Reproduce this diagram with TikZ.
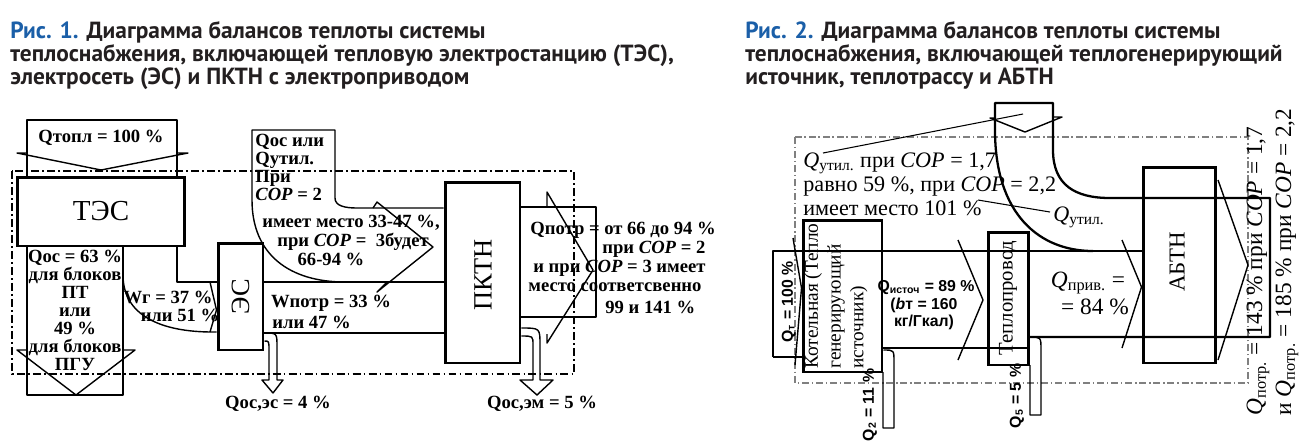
\documentclass[tikz,border=0pt]{standalone}
\usepackage{fontspec}
\setmainfont{Liberation Serif}
\newfontfamily\ttlfont{PT Sans}
\newfontfamily\lsans{Liberation Sans}
\definecolor{ttlblue}{RGB}{27,95,168}
\definecolor{ttldark}{RGB}{35,31,32}
\begin{document}
\begin{tikzpicture}[x=0.02cm,y=-0.02cm,
  ln/.style={line width=0.8pt, line join=round},
  fl/.style={line width=1.3pt, line join=round},
  bx/.style={draw, line width=1.7pt, inner sep=0pt},
  bnd/.style={line width=0.8pt, dash pattern=on 4.5pt off 1.8pt on 1pt off 1.8pt},
  bndg/.style={line width=0.6pt, gray, dash pattern=on 4pt off 1.6pt on 0.8pt off 1.6pt},
  ttl/.style={anchor=base west, inner sep=0pt, font=\ttlfont\bfseries\fontsize{13.3}{15}\selectfont, text=ttldark},
  la/.style={inner sep=0pt, font=\bfseries\fontsize{10.6}{10.25}\selectfont},
  lb/.style={inner sep=0pt, font=\fontsize{12.6}{13.7}\selectfont},
  lr/.style={inner sep=0pt, font=\fontsize{13.3}{14}\selectfont},
  ls/.style={inner sep=0pt, font=\lsans\bfseries\fontsize{9}{9.8}\selectfont},
]
\fill[white] (0,0) rectangle (1311,441);
\useasboundingbox (0,0) rectangle (1311,441);

% ---------- titles ----------
\node[ttl] (t1a) at (10,38) {\textcolor{ttlblue}{Рис. 1.} Диаграмма балансов теплоты системы};
\node[ttl] (t1b) at (10,61) {теплоснабжения, включающей тепловую электростанцию (ТЭС),};
\node[ttl] (t1c) at (10,84) {электросеть (ЭС) и ПКТН с электроприводом};
\node[ttl] (t2a) at (745,38) {\textcolor{ttlblue}{Рис. 2.} Диаграмма балансов теплоты системы};
\node[ttl] (t2b) at (745,61) {теплоснабжения, включающей теплогенерирующий};
\node[ttl] (t2c) at (745,84) {источник, теплотрассу и АБТН};

% ---------- Fig. 1 ----------
\draw[bnd] (12,171) rectangle (574,374);
\node[bx, minimum width=3.36cm, minimum height=1.38cm, font=\fontsize{16.5}{18}\selectfont] (tes) at (101,211.5) {ТЭС};
\node[bx, minimum width=0.9cm, minimum height=2.14cm] (es) at (240.5,296.5) {};
\node[rotate=90, inner sep=0pt, font=\fontsize{15}{16}\selectfont] (esl) at (es.center) {ЭС};
\node[bx, minimum width=1.5cm, minimum height=3.62cm] (pktn) at (482.5,272.5) {};
\node[rotate=90, inner sep=0pt, font=\fontsize{15}{16}\selectfont] (pktnl) at (483,275) {ПКТН};

% input arrow
\draw[ln] (tes.north -| 27,0) -- (27,120) -- (177,120) -- (tes.north -| 177,0);
\draw[ln] (27,153) -- (17,153) -- (101,170) -- (188,153) -- (177,153);
\node[la] (qtopl) at (101,138) {Qтопл = 100 \%};

% Qoc down arrow
\draw[ln] (tes.south -| 27,0) -- (27,395) -- (123,395) -- (tes.south -| 123,0);
\draw[ln] (27,350) -- (17,350) -- (76,395) -- (135,350) -- (123,350);
\node[la, align=center] (qos) at (75,310) {Qос = 63 \%\\для блоков\\ПТ\\или\\49 \%\\для блоков\\ПГУ};

% Wg flow
\draw[ln] (tes.south -| 177,0) -- (177,282) -- (es.west |- 0,282);
\draw[ln] (123,275) .. controls (123,315) and (160,332) .. (213,332) -- (es.west |- 0,332);
\draw[ln] (210,282) -- (es.west |- 0,310) -- (210,332);
\node[la] (wg1) at (168,297) {Wг = 37 \%};
\node[la] (wg2) at (180,315) {или 51 \%};

% big curved arrow Qoc / Qutil
\draw[ln] (345,282) .. controls (290,282) and (252,255) .. (252,200) -- (252,130) -- (335,130) -- (335,198) .. controls (335,206) and (345,208) .. (357,208) -- (pktn.west |- 0,208);
\draw[ln] (373,208) -- (377,202) -- (433,247) -- (377,292) -- (387,282);
\node[la, align=left, anchor=north west] (qutil1) at (255,134) {Qос или\\Qутил.\\При\\\textit{COP} = 2};
\node[la] (c1) at (351,223) {имеет место 33-47 \%,};
\node[la] (c2) at (353,242) {при \textit{COP} =\ \ 3будет};
\node[la] (c3) at (331,259) {66-94 \%};

% Wpotr flow
\draw[ln] (es.east |- 0,282) -- (pktn.west |- 0,282);
\draw[ln] (es.east |- 0,333) -- (pktn.west |- 0,333);
\node[la] (wp1) at (331,303) {Wпотр = 33 \%};
\node[la, anchor=west] (wp2) at (272,322) {или 47 \%};

% Qpotr output
\draw[ln] (pktn.east |- 0,207) -- (596,207) -- (596,317) -- (pktn.east |- 0,317);
\draw[ln] (547,207) -- (547,192) -- (593,270) -- (547,343) -- (547,334);
\node[la, anchor=west] (p1) at (530,230) {Qпотр = от 66 до 94 \%};
\node[la, anchor=west] (p2) at (602,249) {при \textit{COP} = 2};
\node[la, anchor=west] (p3) at (533,268) {и при \textit{COP} = 3 имеет};
\node[la, anchor=west] (p4) at (528,287) {место соответсвенно};
\node[la, anchor=west] (p5) at (605,307) {99 и 141 \%};

% losses
\draw[ln] (es.east |- 0,333) .. controls (277,333) .. (277,347) -- (277,380) -- (283,380) -- (273,393) -- (262,380) -- (269,380) -- (269,350) .. controls (269,341) .. (es.east |- 0,341);
\node[la] (qes) at (278,404) {Qос,эс = 4 \%};
\draw[ln] (pktn.east |- 0,328) .. controls (540,328) .. (540,345) -- (540,380) -- (553,380) -- (537,395) -- (520,380) -- (533,380) -- (533,345) .. controls (533,336) .. (pktn.east |- 0,336);
\node[la] (qem) at (542,404) {Qос,эм = 5 \%};

% ---------- Fig. 2 ----------
\draw[bndg] (795,137) rectangle (1248,383);
\node[bx, minimum width=1.58cm, minimum height=3.04cm] (kot) at (842.5,296) {};
\node[bx, minimum width=0.8cm, minimum height=2.66cm] (tep) at (1008,298.5) {};
\node[bx, minimum width=1.44cm, minimum height=3.92cm] (abtn) at (1179,265) {};

% main flow lines
\draw[fl] (773,357) -- (773,251) -- (abtn.west |- 0,251);
\draw[fl] (773,357) -- (kot.west |- 0,357);
\draw[ln] (793,238) -- (kot.west |- 0,288) -- (795,365);
\draw[fl] (kot.east |- 0,348) -- (tep.east |- 0,348);
\draw[ln] (958,240) -- (983,300) -- (958,360);
\draw[fl] (tep.east |- 0,337) -- (1270,337) -- (1270,198) -- (1110,198) .. controls (1075,198) and (1053,185) .. (1053,150) -- (1053,103) -- (995,103) -- (995,130) .. controls (995,215) and (1040,251) .. (1093,251);
\draw[ln] (1122,240) -- (abtn.west |- 0,287) -- (1122,348);
\draw[ln] (1218,180) -- (1248,265) -- (1218,360);
\draw[ln] (995,118) -- (990,118) -- (1025,132) -- (1062,117) -- (1053,117);

% losses
\draw[ln] (kot.east |- 0,350) .. controls (894,350) .. (894,362) -- (894,428) -- (883,428) -- (883,372);
\draw[ln] (tep.east |- 0,337) .. controls (1041,337) .. (1041,350) -- (1041,415) -- (1030,415) -- (1030,365);

% leaders
\draw[line width=0.6pt] (823,153) -- (1023,114);
\draw[line width=0.6pt] (978,200) -- (1050,212);

% labels
\node[ls, rotate=90] (q1) at (789,302) {Q\textsubscript{т} = 100 \%};
\node[rotate=90, align=left, anchor=north west, inner sep=0pt, font=\fontsize{11}{13}\selectfont] (kotl) at (804,369) {Котельная (Тепло\\генерирующий\\источник)};
\node[ls, rotate=90] (q2) at (870,405) {Q\textsubscript{2} = 11 \%};
\node[ls] (qist) at (926,288) {Q\textsubscript{источ} = 89 \%};
\node[ls] (bt) at (924,305) {(\textit{b}т = 160};
\node[ls] (kg) at (924,322) {кг/Гкал)};
\node[rotate=90, inner sep=0pt, font=\fontsize{11.8}{12}\selectfont] (tepl) at (1008,298) {Теплопровод};
\node[ls, rotate=90] (q5) at (1017,396) {Q\textsubscript{5} = 5 \%};
\node[lr] (qpr1) at (1088,283) {\textit{Q}\textsubscript{прив.} =};
\node[lr] (qpr2) at (1095,307) {= 84 \%};
\node[rotate=90, inner sep=0pt, font=\fontsize{13}{13}\selectfont] (abtnl) at (1177,262) {АБТН};
\node[lb, anchor=north west, align=left] (qut) at (803,152) {\textit{Q}\textsubscript{утил.} при \textit{COP} = 1,7\\равно 59 \%, при \textit{COP} = 2,2\\имеет место 101 \%};
\node[lb] (qutl) at (1079,217) {\textit{Q}\textsubscript{утил.}};
\node[lr, rotate=90] (r1) at (1258,271) {\textit{Q}\textsubscript{потр.} = 143 \% при \textit{COP} = 1,7};
\node[lr, rotate=90] (r2) at (1287,262) {и \textit{Q}\textsubscript{потр.} = 185 \% при \textit{COP} = 2,2};
\end{tikzpicture}
\end{document}
